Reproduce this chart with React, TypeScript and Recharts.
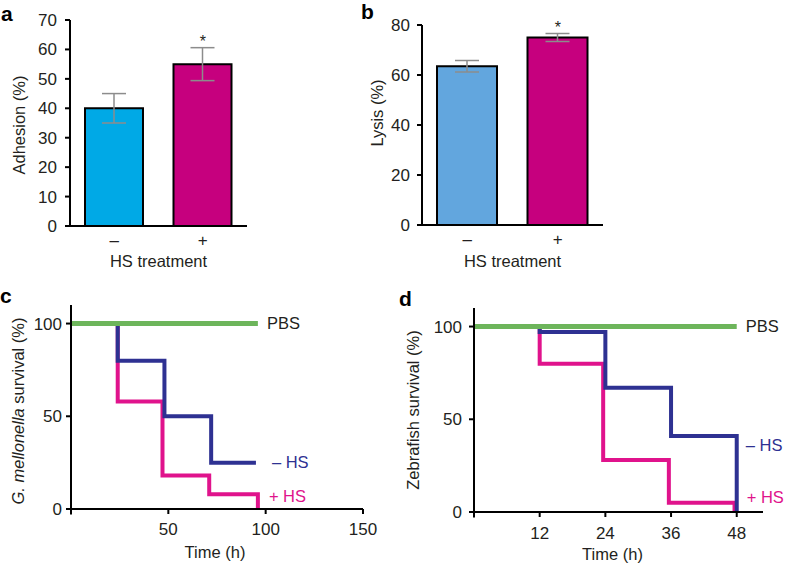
import React from 'react';
import {
  BarChart, Bar, Cell, ErrorBar, XAxis, YAxis, LineChart, Line, ReferenceDot, ReferenceLine,
} from 'recharts';

const FONT = "'Liberation Sans', Arial, Helvetica, sans-serif";
const TEXT = '#231F20';

// ---------- data ----------
const barCategories = ['–', '+'];
const adhesionMeans = [40, 55];
const adhesionErrors = [5, 5.6];
const lysisMeans = [63.5, 75];
const lysisErrors = [2.3, 1.6];
const adhesionTicks = [0, 10, 20, 30, 40, 50, 60, 70];
const lysisTicks = [0, 20, 40, 60, 80];

const gTimePBS = [0, 96];
const gPBS = [100, 100];
const gTimeMinus = [0, 24, 48, 72, 95];
const gMinus = [100, 80, 50, 25, 25];
const gTimePlus = [0, 24, 47, 71, 96, 96];
const gPlus = [100, 58, 18, 8, 8, 0];
const gXTicks = [50, 100, 150];

const zTimePBS = [0, 48];
const zPBS = [100, 100];
const zTimeMinus = [0, 12, 24, 36, 48, 48];
const zMinus = [100, 97, 67, 41, 41, 0];
const zTimePlus = [0, 12, 23.6, 35.6, 47.6, 47.6];
const zPlus = [100, 80, 28, 5, 5, 0];
const zXTicks = [12, 24, 36, 48];
const survivalTicks = [0, 50, 100];

// ---------- colours ----------
const CYAN = '#00A9E6';
const LIGHTBLUE = '#62A6DE';
const MAGENTA_BAR = '#C6007E';
const NAVY = '#2E3192';
const MAGENTA_LINE = '#E0138C';
const GREEN = '#6DB55B';
const ERR = '#8C8C8C';

const adhesionData = barCategories.map((c, i) => ({ cat: c, mean: adhesionMeans[i], err: adhesionErrors[i] }));
const lysisData = barCategories.map((c, i) => ({ cat: c, mean: lysisMeans[i], err: lysisErrors[i] }));
const zip = (t: number[], v: number[]) => t.map((x, i) => ({ t: x, v: v[i] }));
const gPBSData = zip(gTimePBS, gPBS);
const gMinusData = zip(gTimeMinus, gMinus);
const gPlusData = zip(gTimePlus, gPlus);
const zPBSData = zip(zTimePBS, zPBS);
const zMinusData = zip(zTimeMinus, zMinus);
const zPlusData = zip(zTimePlus, zPlus);

const axisLine = { stroke: '#000', strokeWidth: 2 };
const tickStyle = { fill: TEXT, fontSize: 17, fontFamily: FONT };

function YTitle(props: any) {
  const { viewBox, ox, oy, parts } = props;
  if (!viewBox) return null;
  const cx = viewBox.x + ox;
  const cy = viewBox.y + viewBox.height / 2 + oy;
  return (
    <text x={cx} y={cy} transform={`rotate(-90 ${cx} ${cy})`} textAnchor="middle" dominantBaseline="central"
      fontFamily={FONT} fontSize={16.5} fill={TEXT}>
      {parts.map((p: any, i: number) => (
        <tspan key={i} fontStyle={p.italic ? 'italic' : 'normal'}>{p.text}</tspan>
      ))}
    </text>
  );
}

function XTitle(props: any) {
  const { viewBox, ox, oy, title } = props;
  if (!viewBox) return null;
  const cx = viewBox.x + viewBox.width / 2 + ox;
  const cy = viewBox.y + oy;
  return (
    <text x={cx} y={cy} textAnchor="middle" dominantBaseline="central" fontFamily={FONT} fontSize={16.5} fill={TEXT}>
      {title}
    </text>
  );
}

const letterStyle = (left: number, top: number): React.CSSProperties => ({
  position: 'absolute', left, top, fontFamily: FONT, fontWeight: 'bold', fontSize: 21, lineHeight: '21px', color: '#000',
});

const lineProps = { dataKey: 'v', type: 'stepAfter' as const, strokeWidth: 4, dot: false, isAnimationActive: false };

export default function App() {
  return (
    <div style={{ position: 'absolute', left: 0, top: 0, width: 786, height: 565, background: '#fff', overflow: 'hidden' }}>
      {/* Panel a */}
      <div style={{ position: 'absolute', left: 0, top: 0 }}>
        <BarChart width={260} height={280} data={adhesionData} margin={{ top: 20, right: 13, left: 0, bottom: 0 }}>
          <XAxis dataKey="cat" height={54} tickLine={false} axisLine={axisLine} tick={tickStyle} tickSize={6} tickMargin={2}
            label={<XTitle ox={0} oy={35} title="HS treatment" />} />
          <YAxis domain={[0, 70]} ticks={adhesionTicks} interval={0} width={70} tickSize={5} tickMargin={8}
            axisLine={axisLine} tickLine={axisLine} tick={tickStyle}
            label={<YTitle ox={18.5} oy={2} parts={[{ text: 'Adhesion (%)' }]} />} />
          <Bar dataKey="mean" barSize={58} stroke="#000" strokeWidth={2} isAnimationActive={false}>
            <Cell fill={CYAN} />
            <Cell fill={MAGENTA_BAR} />
            <ErrorBar dataKey="err" width={12} stroke={ERR} strokeWidth={1.5} direction="y" />
          </Bar>
          <ReferenceDot x="+" y={adhesionMeans[1] + adhesionErrors[1]} r={1} fill="none" stroke="none"
            label={{ value: '*', position: 'top', offset: 0, fill: TEXT, fontSize: 16, fontFamily: FONT }} />
        </BarChart>
      </div>

      {/* Panel b */}
      <div style={{ position: 'absolute', left: 360, top: 0 }}>
        <BarChart width={280} height={280} data={lysisData} margin={{ top: 25, right: 37, left: 0, bottom: 0 }}>
          <XAxis dataKey="cat" height={55} tickLine={false} axisLine={axisLine} tick={tickStyle} tickSize={6} tickMargin={2}
            label={<XTitle ox={0} oy={36} title="HS treatment" />} />
          <YAxis domain={[0, 80]} ticks={lysisTicks} interval={0} width={62} tickSize={5} tickMargin={7}
            axisLine={axisLine} tickLine={axisLine} tick={tickStyle}
            label={<YTitle ox={17} oy={-12} parts={[{ text: 'Lysis (%)' }]} />} />
          <Bar dataKey="mean" barSize={60} stroke="#000" strokeWidth={2} isAnimationActive={false}>
            <Cell fill={LIGHTBLUE} />
            <Cell fill={MAGENTA_BAR} />
            <ErrorBar dataKey="err" width={12} stroke={ERR} strokeWidth={1.5} direction="y" />
          </Bar>
          <ReferenceDot x="+" y={lysisMeans[1] + lysisErrors[1]} r={1} fill="none" stroke="none"
            label={{ value: '*', position: 'top', offset: 0, fill: TEXT, fontSize: 16, fontFamily: FONT }} />
        </BarChart>
      </div>

      {/* Panel c */}
      <div style={{ position: 'absolute', left: 0, top: 280 }}>
        <LineChart width={400} height={285} margin={{ top: 25, right: 37, left: 0, bottom: 0 }}>
          <XAxis type="number" dataKey="t" domain={[0, 150]} ticks={gXTicks} interval={0} height={56}
            tickSize={5} tickMargin={9} axisLine={axisLine} tickLine={axisLine} tick={tickStyle}
            label={<XTitle ox={-2} oy={43} title="Time (h)" />} />
          <YAxis type="number" domain={[0, 110]} ticks={survivalTicks} interval={0} width={71} tickSize={5} tickMargin={4}
            axisLine={axisLine} tickLine={axisLine} tick={tickStyle}
            label={<YTitle ox={18} oy={4} parts={[{ text: 'G. mellonella', italic: true }, { text: ' survival (%)' }]} />} />
          <ReferenceLine segment={[{ x: 0, y: 0 }, { x: 0, y: -3 }]} ifOverflow="visible" stroke="#000" strokeWidth={2} />
          <Line {...lineProps} data={gPlusData} stroke={MAGENTA_LINE} />
          <Line {...lineProps} data={gMinusData} stroke={NAVY} />
          <Line {...lineProps} data={gPBSData} stroke={GREEN} strokeWidth={5} />
          <ReferenceDot x={96} y={100} r={1} fill="none" stroke="none" ifOverflow="visible"
            label={{ value: 'PBS', position: 'right', offset: 8, fill: TEXT, fontSize: 16.5, fontFamily: FONT }} />
          <ReferenceDot x={96} y={25} r={1} fill="none" stroke="none" ifOverflow="visible"
            label={{ value: '– HS', position: 'right', offset: 13, fill: NAVY, fontSize: 16.5, fontFamily: FONT }} />
          <ReferenceDot x={96} y={7} r={1} fill="none" stroke="none" ifOverflow="visible"
            label={{ value: '+ HS', position: 'right', offset: 10, fill: MAGENTA_LINE, fontSize: 16.5, fontFamily: FONT }} />
        </LineChart>
      </div>

      {/* Panel d */}
      <div style={{ position: 'absolute', left: 400, top: 280 }}>
        <LineChart width={386} height={285} margin={{ top: 28, right: 23, left: 0, bottom: 0 }}>
          <XAxis type="number" dataKey="t" domain={[0, 52.8]} ticks={zXTicks} interval={0} height={53}
            tickSize={5} tickMargin={10} axisLine={axisLine} tickLine={axisLine} tick={tickStyle}
            label={<XTitle ox={-6} oy={42} title="Time (h)" />} />
          <YAxis type="number" domain={[0, 110]} ticks={survivalTicks} interval={0} width={74} tickSize={5} tickMargin={7}
            axisLine={axisLine} tickLine={axisLine} tick={tickStyle}
            label={<YTitle ox={13} oy={0} parts={[{ text: 'Zebrafish survival (%)' }]} />} />
          <ReferenceLine segment={[{ x: 0, y: 0 }, { x: 0, y: -3 }]} ifOverflow="visible" stroke="#000" strokeWidth={2} />
          <Line {...lineProps} data={zPlusData} stroke={MAGENTA_LINE} />
          <Line {...lineProps} data={zMinusData} stroke={NAVY} />
          <Line {...lineProps} data={zPBSData} stroke={GREEN} strokeWidth={5} />
          <ReferenceDot x={48} y={100} r={1} fill="none" stroke="none" ifOverflow="visible"
            label={{ value: 'PBS', position: 'right', offset: 8, fill: TEXT, fontSize: 16.5, fontFamily: FONT }} />
          <ReferenceDot x={48} y={36} r={1} fill="none" stroke="none" ifOverflow="visible"
            label={{ value: '– HS', position: 'right', offset: 8, fill: NAVY, fontSize: 16.5, fontFamily: FONT }} />
          <ReferenceDot x={48} y={8} r={1} fill="none" stroke="none" ifOverflow="visible"
            label={{ value: '+ HS', position: 'right', offset: 9, fill: MAGENTA_LINE, fontSize: 16.5, fontFamily: FONT }} />
        </LineChart>
      </div>

      <div style={letterStyle(1, 3)}>a</div>
      <div style={letterStyle(361, 1)}>b</div>
      <div style={letterStyle(0, 285)}>c</div>
      <div style={letterStyle(399, 288)}>d</div>
    </div>
  );
}
